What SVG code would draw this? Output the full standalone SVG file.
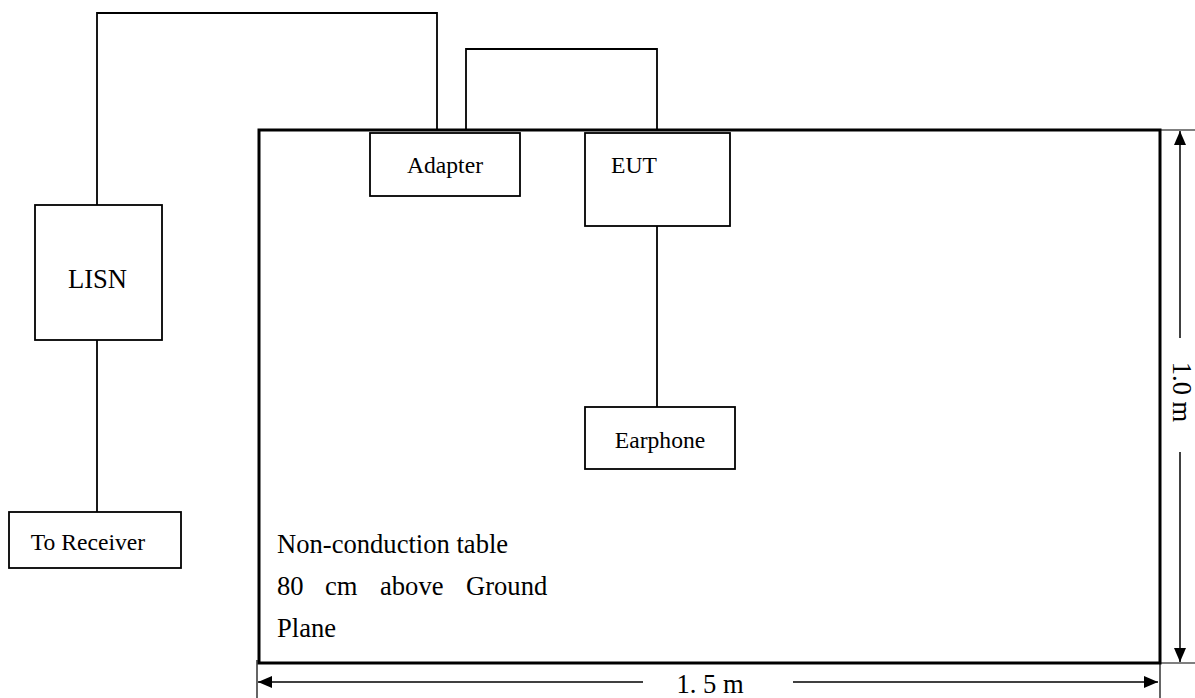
<svg xmlns="http://www.w3.org/2000/svg" width="1195" height="698" viewBox="0 0 1195 698">
<style>
.box{fill:#fff;stroke:#000;stroke-width:1.8}
.wire{fill:none;stroke:#000;stroke-width:1.8}
.thin{fill:none;stroke:#000;stroke-width:1.2}
.dim{fill:none;stroke:#000;stroke-width:1.5}
.lbl{font-family:"Liberation Serif",serif;font-size:23.6px;fill:#000;text-anchor:middle}
.big{font-family:"Liberation Serif",serif;font-size:26.6px;fill:#000}
</style>
<defs>
<marker id="arr" viewBox="0 0 14 12" refX="14" refY="6" markerUnits="userSpaceOnUse" markerWidth="14" markerHeight="12" orient="auto-start-reverse">
<path d="M0,0 L14,6 L0,12 Z" fill="#000"/>
</marker>
</defs>
<rect width="1195" height="698" fill="#fff"/>
<g id="table">
<rect x="259" y="130" width="901" height="533" fill="none" stroke="#000" stroke-width="3"/>
<text class="big" x="277" y="553">Non-conduction table</text>
<text class="big" y="595"><tspan x="277">80</tspan><tspan x="325">cm</tspan><tspan x="380">above</tspan><tspan x="466">Ground</tspan></text>
<text class="big" x="277" y="637">Plane</text>
</g>
<g id="connectors">
<path class="wire" d="M97,205 V13 H437 V130"/>
<path class="wire" d="M466,130 V49 H657 V130"/>
<path class="wire" d="M657,226 V407"/>
<path class="wire" d="M97,340 V512"/>
</g>
<g id="lisn">
<rect class="box" x="35" y="205" width="127" height="135"/>
<text class="big" x="97.5" y="288" text-anchor="middle">LISN</text>
</g>
<g id="receiver">
<rect class="box" x="9" y="512" width="172" height="56"/>
<text class="lbl" x="88" y="550">To Receiver</text>
</g>
<g id="adapter">
<rect class="box" x="370" y="133" width="150" height="63"/>
<text class="lbl" x="445" y="173">Adapter</text>
</g>
<g id="eut">
<rect class="box" x="585" y="133" width="145" height="93"/>
<text class="lbl" x="634" y="173">EUT</text>
</g>
<g id="earphone">
<rect class="box" x="585" y="407" width="150" height="62"/>
<text class="lbl" x="660" y="448">Earphone</text>
</g>
<g id="dimensions">
<path class="thin" d="M1160,130 H1195 M1160,663 H1195 M1160,663 V698 M257,660 V698"/>
<path class="dim" d="M1180,338 V131" marker-end="url(#arr)"/>
<path class="dim" d="M1180,452 V662" marker-end="url(#arr)"/>
<path class="dim" d="M643,682 H258" marker-end="url(#arr)"/>
<path class="dim" d="M793,682 H1158" marker-end="url(#arr)"/>
<text class="big" x="710" y="693" text-anchor="middle">1. 5 m</text>
<text class="big" transform="translate(1173,392) rotate(90)" text-anchor="middle">1.0 m</text>
</g>
</svg>
